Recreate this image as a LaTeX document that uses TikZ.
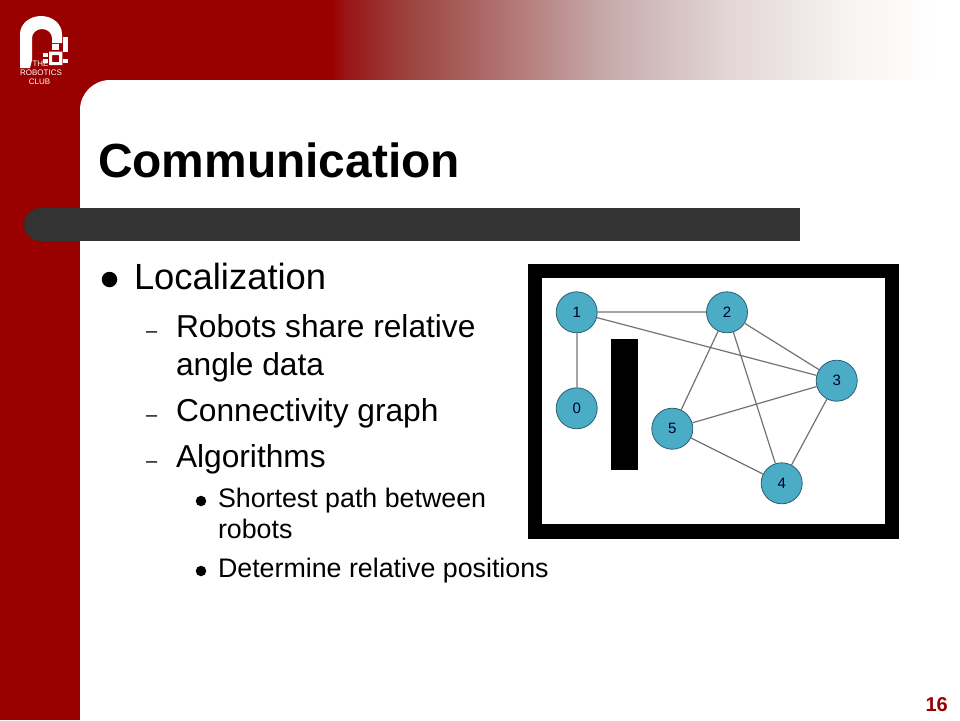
\documentclass[tikz,border=0pt]{standalone}
\usepackage{fontspec}
\setmainfont{Liberation Sans}
\usetikzlibrary{positioning}
\definecolor{clubred}{RGB}{153,0,0}
\definecolor{bardark}{RGB}{51,51,51}
\definecolor{nodeblue}{RGB}{75,172,198}
\definecolor{nodeedge}{RGB}{45,95,115}
\pgfdeclarehorizontalshading{headfade}{100bp}{rgb(0bp)=(0.6,0,0); rgb(25bp)=(0.6,0,0); rgb(26.1bp)=(0.6,0.08,0.08);
  rgb(31.3bp)=(0.61,0.27,0.25); rgb(38.1bp)=(0.69,0.43,0.43); rgb(46.9bp)=(0.78,0.67,0.67);
  rgb(56.7bp)=(0.89,0.84,0.84); rgb(66.5bp)=(0.97,0.96,0.95); rgb(73bp)=(1,1,1); rgb(100bp)=(1,1,1)}
\tikzset{txt/.style = {anchor = base west, inner sep = 0, outer sep = 0}}
\tikzset{titletxt/.style = {txt, font = \fontsize{47.9}{56}\bfseries\selectfont}}
\tikzset{lvlone/.style = {txt, font = \fontsize{36.4}{42}\selectfont}}
\tikzset{lvltwo/.style = {txt, font = \fontsize{31.7}{38}\selectfont}}
\tikzset{lvlthree/.style = {txt, font = \fontsize{26.8}{32}\selectfont}}
\tikzset{logotxt/.style = {text = white, inner sep = 0, font = \fontsize{8}{9}\selectfont}}
\tikzset{robot/.style = {draw = nodeedge, line width = 0.8pt, fill = nodeblue, circle, inner sep = 0,
                         minimum size = 41pt, text = black!85!blue, font = \fontsize{15}{17}\selectfont}}
\tikzset{thicklink/.style = {draw = black!35, line width = 1.9pt}}
\tikzset{thinlink/.style = {draw = black!55, line width = 1.2pt}}
\tikzset{bigdot/.style = {fill = black, circle, inner sep = 0, minimum size = 15.5pt}}
\tikzset{smalldot/.style = {fill = black, circle, inner sep = 0, minimum size = 10.5pt}}
\begin{document}
\begin{tikzpicture}[x=1pt, y=-1pt]
    \useasboundingbox (0, 0) rectangle (960, 720);
    \fill [white] (0, 0) rectangle (960, 720);
    \fill [clubred] (0, 0) rectangle (331, 80);
    \fill [clubred] (0, 80) rectangle (80, 720);
    \shade [shading = headfade] (331, 0) rectangle (960, 80);
    \fill [clubred] (80, 80) rectangle (112, 112);
    \fill [white] (80, 730) [rounded corners = 30pt] -- (80, 80) [sharp corners] -- (960, 80) -- (960, 730) -- cycle;

    \fill [bardark, rounded corners = 16.4pt] (24, 208) rectangle (60, 241);
    \fill [bardark] (42, 208) rectangle (800, 241);

    \fill [white] (20, 68) -- (20, 34) arc (180:360:21 and 18) -- (62, 43) -- (52, 43) -- (52, 38)
          arc (0:-180:10 and 9) -- (32, 60) -- (30, 68) -- cycle;
    \fill [white] (51.7, 44.3) rectangle (59.3, 50);
    \fill [white, even odd rule] (49, 51.7) rectangle (62.3, 65) (52, 55) rectangle (59, 62);
    \fill [white] (63.3, 37.3) rectangle (68.3, 51.7);
    \fill [white] (63.3, 59.3) rectangle (68.3, 62.7);
    \fill [white] (43.3, 53.3) rectangle (48.3, 56.7);
    \fill [white] (43.3, 59.3) rectangle (48.3, 63.3);

    \node [logotxt] (the) at (40.5, 63.5) {THE};
    \node [logotxt] (robotics) at (41, 73) {ROBOTICS};
    \node [logotxt] (club) at (39.5, 82) {CLUB};

    \node [titletxt] (title) at (98, 177) {Communication};

    \node [bigdot] (dotloc) at (109.5, 279.5) {};
    \node [lvlone] (loc) at (134, 289) {Localization};
    \node [lvltwo] (dasha) at (146, 337) {\fontsize{20}{24}\selectfont –};
    \node [lvltwo] (share) at (176, 337) {Robots share relative};
    \node [lvltwo] (angle) at (176, 375) {angle data};
    \node [lvltwo] (dashb) at (146, 421) {\fontsize{20}{24}\selectfont –};
    \node [lvltwo] (conn) at (176, 421) {Connectivity graph};
    \node [lvltwo] (dashc) at (146, 467) {\fontsize{20}{24}\selectfont –};
    \node [lvltwo] (algo) at (176, 467) {Algorithms};
    \node [smalldot] (dotpath) at (201, 501) {};
    \node [lvlthree] (path) at (218, 507) {Shortest path between};
    \node [lvlthree] (rob) at (218, 538) {robots};
    \node [smalldot] (dotpos) at (201, 571) {};
    \node [lvlthree] (pos) at (218, 577) {Determine relative positions};

    \fill [black] (528.3, 264.3) rectangle (898.7, 538.7);
    \fill [white] (542.3, 278.3) rectangle (884.7, 524.3);
    \fill [black] (610.7, 339.3) rectangle (638.3, 470.3);

    \node [robot] (n1) at (576.7, 312.3) {1};
    \node [robot] (n2) at (727, 312.3) {2};
    \node [robot] (n3) at (836.7, 380.7) {3};
    \node [robot] (n0) at (576.7, 408.3) {0};
    \node [robot] (n5) at (672.3, 428.7) {5};
    \node [robot] (n4) at (781.7, 483.3) {4};

    \draw [thicklink] (n1) -- (n2);
    \draw [thicklink] (n1) -- (n0);
    \draw [thinlink] (n1) -- (n3);
    \draw [thinlink] (n2) -- (n3);
    \draw [thinlink] (n2) -- (n5);
    \draw [thinlink] (n2) -- (n4);
    \draw [thinlink] (n3) -- (n5);
    \draw [thinlink] (n3) -- (n4);
    \draw [thinlink] (n5) -- (n4);

    \node [anchor = base east, inner sep = 0, text = clubred, font = \fontsize{20}{24}\bfseries\selectfont] (num) at (948, 711) {16};
\end{tikzpicture}
\end{document}
